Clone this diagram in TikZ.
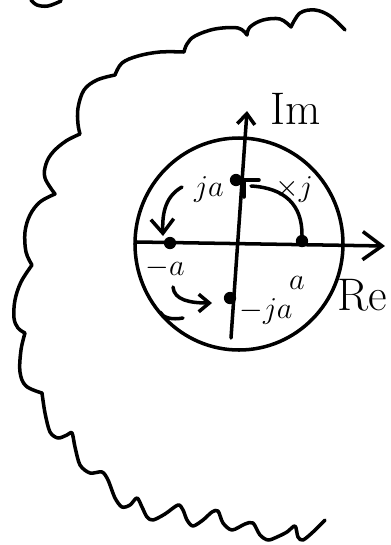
\documentclass[tikz,border=0pt]{standalone}
\usepackage{tikz}
\usetikzlibrary{calc,arrows.meta}

\begin{document}
\begin{tikzpicture}[x=0.02cm,y=-0.02cm]
\tikzstyle{pen}=[line width=2pt,black,line cap=round,line join=round]
\tikzstyle{dot}=[circle,fill=black,inner sep=0pt,minimum size=7pt]
\tikzstyle{lbl}=[font=\fontsize{19}{21}\selectfont,inner sep=0pt]
\tikzstyle{axlbl}=[font=\fontsize{26}{28}\selectfont,inner sep=0pt]

	\useasboundingbox (0,0) rectangle (390,545);

	% scrap of a curve at the top edge
	\draw [pen] plot[smooth, tension=.6] coordinates { (31,0) (37,5) (48,6) (61,1) };

	% the wavy cloud round the plane
	\draw [pen] plot[smooth, tension=.6] coordinates { (345,30) (330,16) (315,10) (300,13) (291,27) }
		-- plot[smooth, tension=.6] coordinates { (291,27) (280,19) (263,20) (250,27) (247,35) }
		-- plot[smooth, tension=.6] coordinates { (247,35) (238,28) (215,29) (195,36) (187,44) (184,52) }
		-- plot[smooth, tension=.6] coordinates { (184,52) (160,52) (138,56) (122,63) (115,75) }
		-- plot[smooth, tension=.6] coordinates { (115,75) (97,80) (84,90) (78,108) (78,124) (80,134) }
		-- plot[smooth, tension=.6] coordinates { (80,134) (66,141) (53,152) (46,164) (45,178) (55,194) }
		-- plot[smooth, tension=.6] coordinates { (55,194) (40,202) (30,215) (25,232) (26,252) (32,265) }
		-- plot[smooth, tension=.6] coordinates { (32,265) (21,282) (15,300) (14,318) (18,328) (25,333) }
		-- plot[smooth, tension=.6] coordinates { (25,333) (21,350) (20,372) (26,386) (42,393) }
		-- plot[smooth, tension=.5] coordinates { (42,393) (45,413) (50,432) (58,438) (67,435) (72,433)
			(75,447) (80,465) (90,473) (102,472) (108,480) (115,498) (122,507) (130,505) (137,498)
			(142,507) (147,517) (153,520) (165,514) (178,505) (183,510) (187,520) (193,526)
			(203,520) (212,512) (218,511) (223,523) (232,530) (245,524) (253,523) (260,535)
			(268,540) (277,537) (287,532) (295,526) (298,537) (303,540) (313,532) (325,520) };

	% unit circle
	\coordinate (o) at (239,244);
	\draw [pen] (o) ellipse [x radius=104, y radius=106];

	% axes
	\coordinate (reL) at (137,242);
	\coordinate (reR) at (385,246);
	\coordinate (imB) at (231,338);
	\coordinate (imT) at (247,111);
	\draw [pen,-{Straight Barb[length=11pt,width=16pt,line width=2pt]}] (reL) -- (reR);
	\draw [pen,-{Straight Barb[length=6pt,width=10pt,line width=2pt]}] (imB) -- (imT);
	\node (im) [axlbl] at (296,109) {Im};
	\node (re) [axlbl] at (362,295) {Re};

	% the four points
	\node (ja) [dot] at (236,180) {};
	\node (pa) [dot] at (302,241) {};
	\node (ma) [dot] at (170,243) {};
	\node (mja) [dot] at (230,298) {};

	\node (lja) [lbl] at (209,189) {$ja$};
	\node (lpa) [lbl] at (297,283) {$a$};
	\node (lma) [lbl] at (165,268) {$-a$};
	\node (lmja) [lbl] at (266,311) {$-ja$};
	\node (ltimes) [lbl] at (294,189) {$\times j$};

	% a -> ja, ending in a bar
	\coordinate (arcEnd) at (251,186);
	\draw [pen] (pa.north) .. controls (302,205) and (285,188) .. (arcEnd);
	\draw [pen] (242,180) -- (259,180);
	\draw [pen] (244,181) -- (244,197);

	% ja -> -a
	\coordinate (s1) at (182,187);
	\coordinate (t1) at (163,236);
	\draw [pen,-{Straight Barb[length=8pt,width=13pt,line width=2pt]}] (s1) .. controls (166,196) and (162,212) .. (t1);

	% -a -> -ja
	\coordinate (s2) at (173,287);
	\coordinate (t2) at (212,303);
	\draw [pen,-{Straight Barb[length=6pt,width=10pt,line width=2pt]}] (s2) .. controls (174,300) and (190,303) .. (t2);

	% stray hook under -a
	\draw [pen] (160,312) .. controls (163,318) and (172,320) .. (183,318);

\end{tikzpicture}
\end{document}
